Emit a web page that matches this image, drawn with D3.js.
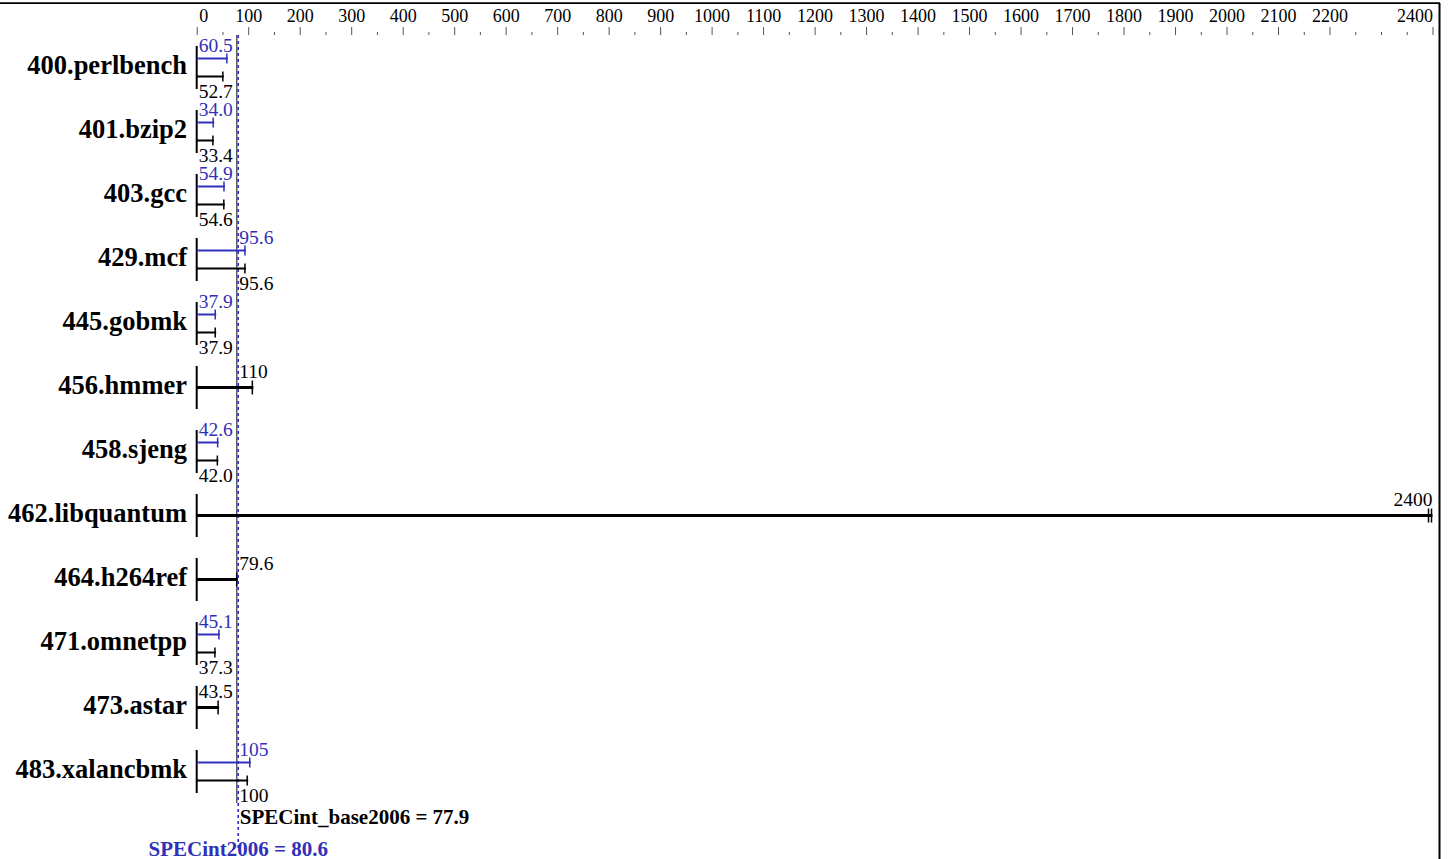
<!DOCTYPE html>
<head>
<meta charset="utf-8">
<title>SPECint2006</title>
<script src="https://cdn.jsdelivr.net/npm/d3@7"></script>
<style>
  body { margin: 0; background: #fff; }
  text { font-family: "Liberation Serif", "Times New Roman", serif; }
</style>
</head>
<body>
<svg width="1448" height="859"></svg>
<script>
var benchmarks = ["400.perlbench", "401.bzip2", "403.gcc", "429.mcf", "445.gobmk", "456.hmmer",
                  "458.sjeng", "462.libquantum", "464.h264ref", "471.omnetpp", "473.astar", "483.xalancbmk"]
var baseScores = [52.7, 33.4, 54.6, 95.6, 37.9, 110, 42.0, 2400, 79.6, 37.3, 43.5, 100]
var peakScores = [60.5, 34.0, 54.9, 95.6, 37.9, null, 42.6, null, null, 45.1, null, 105]
var majorTicks = [0, 100, 200, 300, 400, 500, 600, 700, 800, 900, 1000, 1100, 1200, 1300,
                  1400, 1500, 1600, 1700, 1800, 1900, 2000, 2100, 2200, 2400]
var baseMean = 77.9
var peakMean = 80.6

var blue = '#3030b8'
var svg = d3.select('svg')

var x = d3.scaleLinear().domain([0, 2400]).range([196.7, 1432.5])
var y = d3.scaleBand().domain(benchmarks).range([35.5, 803.5])
var fmt = function (v) { return v >= 100 ? d3.format('d')(v) : d3.format('.1f')(v) }

// frame
svg.append('line').attr('x1', 0).attr('x2', 1440).attr('y1', 3.2).attr('y2', 3.2)
  .attr('stroke', '#000').attr('stroke-width', 1.8)
svg.append('line').attr('x1', 1439.5).attr('x2', 1439.5).attr('y1', 3).attr('y2', 859)
  .attr('stroke', '#000').attr('stroke-width', 2)

// axis on top
var ax = svg.append('g').attr('transform', 'translate(0,35)')
  .call(d3.axisTop(x).tickValues(majorTicks).tickSize(8).tickPadding(5).tickFormat(d3.format('d')))
ax.select('.domain').remove()
ax.selectAll('line').attr('stroke', '#555')
ax.selectAll('text').attr('font-size', 18).attr('font-family', '"Liberation Serif", serif').attr('fill', '#000')
ax.selectAll('.tick').filter(function (d) { return d == 0 }).select('text').attr('text-anchor', 'start').attr('x', 2)
ax.selectAll('.tick').filter(function (d) { return d == 2400 }).select('text').attr('text-anchor', 'end').attr('x', 0)

var minorTicks = d3.range(50, 2400, 50).filter(function (d) { return majorTicks.indexOf(d) < 0 })
var ax2 = svg.append('g').attr('transform', 'translate(0,35)')
  .call(d3.axisTop(x).tickValues(minorTicks).tickSize(3).tickFormat(''))
ax2.select('.domain').remove()
ax2.selectAll('line').attr('stroke', '#555')

// mean lines
svg.append('line').attr('x1', x(baseMean)).attr('x2', x(baseMean)).attr('y1', 35).attr('y2', 803)
  .attr('stroke', '#333').attr('stroke-width', 1.2)
svg.append('line').attr('x1', x(peakMean)).attr('x2', x(peakMean)).attr('y1', 35).attr('y2', 851)
  .attr('stroke', blue).attr('stroke-width', 1.6).attr('stroke-dasharray', '3,3')

var rows = svg.selectAll('g.row').data(benchmarks).enter().append('g')
  .attr('class', 'row')
  .attr('transform', function (d) { return 'translate(0,' + (y(d) + y.bandwidth() / 2) + ')' })

rows.append('text').attr('x', 187).attr('y', 6).attr('text-anchor', 'end')
  .attr('font-size', 26.5).attr('font-weight', 'bold').text(function (d) { return d })

rows.append('line').attr('x1', x(0)).attr('x2', x(0)).attr('y1', -21.5).attr('y2', 21.5)
  .attr('stroke', '#000').attr('stroke-width', 2)

function bar (g, v, yy, color, w, cap) {
  g.append('line').attr('x1', x(0)).attr('x2', x(v)).attr('y1', yy).attr('y2', yy)
    .attr('stroke', color).attr('stroke-width', w)
  g.append('line').attr('x1', x(v) - 1).attr('x2', x(v) - 1).attr('y1', yy - cap).attr('y2', yy + cap)
    .attr('stroke', color).attr('stroke-width', 1.5)
  if (v >= x.domain()[1])
    g.append('line').attr('x1', x(v) - 4).attr('x2', x(v) - 4).attr('y1', yy - cap).attr('y2', yy + cap)
      .attr('stroke', color).attr('stroke-width', 1.5)
}

function label (g, v, yy, color) {
  var t = g.append('text').attr('y', yy).attr('font-size', 19.5).attr('fill', color).text(fmt(v))
  if (v >= x.domain()[1]) t.attr('x', x(v)).attr('text-anchor', 'end')
  else if (v > baseMean) t.attr('x', x(baseMean) + 2.5)
  else t.attr('x', x(0) + 2)
}

rows.each(function (d, i) {
  var g = d3.select(this)
  var b = baseScores[i], p = peakScores[i]
  if (p == null) {
    bar(g, b, 0, '#000', 3, 7)
    label(g, b, -9.5, '#000')
  } else {
    bar(g, p, -9, blue, 2, 5)
    bar(g, b, 9, '#000', 2, 5)
    label(g, p, -15.5, blue)
    label(g, b, 30.5, '#000')
  }
})

svg.append('text').attr('x', x(baseMean) + 3).attr('y', 824)
  .attr('font-size', 21).attr('font-weight', 'bold')
  .text('SPECint_base2006 = ' + baseMean)
svg.append('text').attr('x', x(peakMean)).attr('y', 855.5).attr('text-anchor', 'middle')
  .attr('font-size', 21).attr('font-weight', 'bold').attr('fill', blue)
  .text('SPECint2006 = ' + peakMean)
</script>
</body>
